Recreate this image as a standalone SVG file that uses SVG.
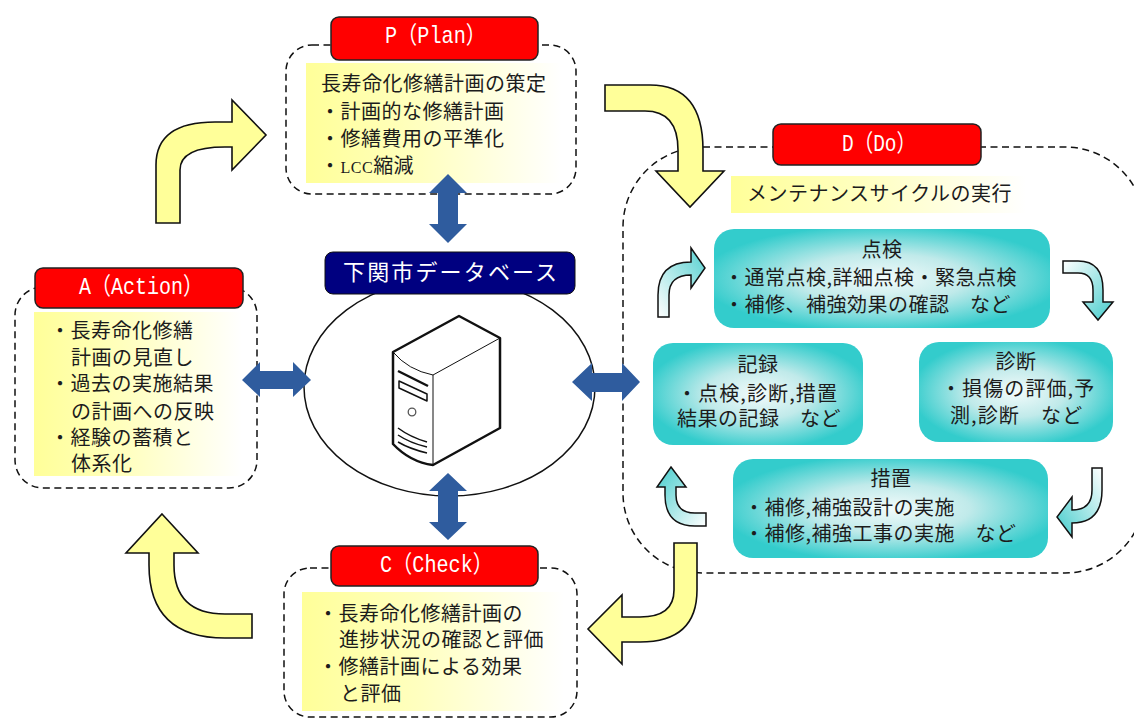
<svg xmlns="http://www.w3.org/2000/svg" width="1134" height="718" viewBox="0 0 1134 718">
<style>
text{font-family:"Noto Sans CJK JP","Noto Sans CJK SC",sans-serif}
.t{font-size:20px;letter-spacing:.5px;fill:#1c1c1c}
.w{letter-spacing:1.1px}
.c{text-anchor:middle}
.h{font-family:"Liberation Mono","Noto Sans CJK JP",monospace;font-size:24px;fill:#fff}
.dash{fill:none;stroke:#111;stroke-width:1.5;stroke-dasharray:7 4.5}
.red{fill:#ff0000;stroke:#222;stroke-width:1.5}
.yb{fill:url(#yg)}
.teal{fill:url(#tg)}
.big{fill:#ffff99;stroke:#111;stroke-width:1.6;stroke-linejoin:miter}
.small{stroke:#111;stroke-width:1.5}
.blue{fill:#2f5c9e}
.srv{fill:none;stroke:#111;stroke-linejoin:round}
</style>
<defs>
<linearGradient id="yg" x1="0" y1="0" x2="1" y2="0"><stop offset="0" stop-color="#ffff99"/><stop offset=".45" stop-color="#ffffc0"/><stop offset="1" stop-color="#ffffff"/></linearGradient>
<radialGradient id="tg" cx=".5" cy=".5" r=".6"><stop offset="0" stop-color="#f2fbfb"/><stop offset=".42" stop-color="#c0eaea"/><stop offset=".9" stop-color="#33cccc"/></radialGradient>
<linearGradient id="a1" x1="0" y1="1" x2="1" y2="0"><stop offset="0" stop-color="#ffffff"/><stop offset="1" stop-color="#55d0d0"/></linearGradient>
<linearGradient id="a2" x1="0" y1="0" x2="1" y2="1"><stop offset="0" stop-color="#ffffff"/><stop offset="1" stop-color="#45cccc"/></linearGradient>
<linearGradient id="a3" x1="1" y1="0" x2="0" y2="1"><stop offset="0" stop-color="#ffffff"/><stop offset="1" stop-color="#45cccc"/></linearGradient>
<linearGradient id="a4" x1="1" y1="1" x2="0" y2="0"><stop offset="0" stop-color="#ffffff"/><stop offset="1" stop-color="#45cccc"/></linearGradient>
</defs>
<rect width="1134" height="718" fill="#fff"/>

<g id="node-plan">
<rect class="dash" x="286" y="45" width="290" height="149" rx="26"/>
<rect class="yb" x="306" y="63" width="255" height="120"/>
<rect class="red" x="331" y="17" width="207" height="43" rx="8"/>
<text class="h" x="385" y="43" textLength="101" lengthAdjust="spacingAndGlyphs">P（Plan）</text>
<text class="t" x="321" y="91">長寿命化修繕計画の策定</text>
<text class="t" x="320" y="119">・計画的な修繕計画</text>
<text class="t" x="320" y="146">・修繕費用の平準化</text>
<text class="t" x="320" y="173">・<tspan font-family="Liberation Serif" font-size="16">LCC</tspan>縮減</text>
</g>

<g id="node-do">
<rect class="dash" x="623" y="147" width="522" height="426" rx="80"/>
<rect class="yb" x="731" y="176" width="295" height="37"/>
<rect class="red" x="773" y="124" width="208" height="41" rx="8"/>
<text class="h" x="842" y="151" textLength="74" lengthAdjust="spacingAndGlyphs">D（Do）</text>
<text class="t" x="747" y="201">メンテナンスサイクルの実行</text>
</g>

<g id="node-inspect">
<rect class="teal" x="714" y="229" width="336" height="99" rx="20"/>
<text class="t c" x="882" y="257">点検</text>
<text class="t" x="724" y="285">・通常点検,詳細点検・緊急点検</text>
<text class="t" x="724" y="312">・補修、補強効果の確認　など</text>
</g>
<g id="node-record">
<rect class="teal" x="653" y="343" width="210" height="102" rx="20"/>
<text class="t c" x="758" y="372">記録</text>
<text class="t w" x="677" y="401">・点検,診断,措置</text>
<text class="t" x="677" y="426">結果の記録　など</text>
</g>
<g id="node-diagnose">
<rect class="teal" x="919" y="342" width="194" height="100" rx="20"/>
<text class="t c" x="1016" y="369">診断</text>
<text class="t w" x="941" y="396">・損傷の評価,予</text>
<text class="t w" x="950" y="423">測,診断　など</text>
</g>
<g id="node-measure">
<rect class="teal" x="733" y="459" width="315" height="99" rx="20"/>
<text class="t c" x="891" y="486">措置</text>
<text class="t" x="744" y="515">・補修,補強設計の実施</text>
<text class="t" x="744" y="541">・補修,補強工事の実施　など</text>
</g>

<g id="node-action">
<rect class="dash" x="15" y="287" width="242" height="201" rx="28"/>
<rect class="yb" x="34" y="312" width="208" height="164"/>
<rect class="red" x="35" y="268" width="208" height="40" rx="8"/>
<text class="h" x="79" y="294" textLength="124" lengthAdjust="spacingAndGlyphs">A（Action）</text>
<text class="t" x="50" y="338">・長寿命化修繕</text>
<text class="t" x="71" y="365">計画の見直し</text>
<text class="t" x="50" y="391">・過去の実施結果</text>
<text class="t" x="71" y="419">の計画への反映</text>
<text class="t" x="50" y="445">・経験の蓄積と</text>
<text class="t" x="71" y="471">体系化</text>
</g>

<g id="node-check">
<rect class="dash" x="284" y="568" width="293" height="149" rx="26"/>
<rect class="yb" x="302" y="592" width="262" height="119"/>
<rect class="red" x="331" y="546" width="207" height="40" rx="8"/>
<text class="h" x="380" y="572" textLength="113" lengthAdjust="spacingAndGlyphs">C（Check）</text>
<text class="t" x="318" y="621">・長寿命化修繕計画の</text>
<text class="t" x="339" y="647">進捗状況の確認と評価</text>
<text class="t" x="318" y="674">・修繕計画による効果</text>
<text class="t" x="340" y="701">と評価</text>
</g>

<g id="node-database">
<ellipse cx="449.5" cy="387" rx="145.5" ry="109" fill="#fff" stroke="#111" stroke-width="1.5"/>
<rect x="325" y="252" width="250" height="42" rx="8" fill="#000080" stroke="#111" stroke-width="1"/>
<text x="450" y="280" class="c" font-size="22" letter-spacing="-.1" fill="#fff" textLength="214">下関市データベース</text>
<g id="server">
<path class="srv" stroke-width="2.5" d="M393 352L459 316L500 338V428L433 465Q410 462 393 444Z"/>
<path class="srv" stroke-width="1" stroke="#666" d="M393 352Q408 370 433 375L500 338M433 375V465"/>
<path class="srv" stroke-width="2.5" stroke="#555" d="M398 371L428 386"/>
<path class="srv" stroke-width="1.5" stroke="#444" d="M399 381L427 394V401L399 388ZM398 428Q410 437 427 442M398 435Q410 443 427 447M398 442Q410 449 427 453"/>
<circle cx="412" cy="412" r="3.8" fill="none" stroke="#555" stroke-width="1.3"/>
</g>
</g>

<g id="connectors">
<path class="big" d="M605 85H650Q703 85 703 150V171H724L690 207L656 171H678V150Q678 111 645 111H605Z"/>
<path class="big" d="M674 543V590Q674 617 640 617H622V595L588 629L622 664V642H640Q697 642 697 590V543Z"/>
<path class="big" d="M162 514L198 553H174V565Q174 614 225 614H252V638H225Q149 638 149 565V553H126Z"/>
<path class="big" d="M156 223V165Q156 122 215 122H232V100L266 135L232 170V147H225Q180 147 180 170V223Z"/>
<path class="blue" d="M448 174L467 193H458V224H467L448 243L429 224H438V193H429Z"/>
<path class="blue" d="M448 473L467 491H458V522H467L448 540L429 522H438V491H429Z"/>
<path class="blue" d="M242 380L260 362V371H293V362L311 380L293 397V389H260V397Z"/>
<path class="blue" d="M572 382L592 363V373H622V363L640 382L622 401V392H592V401Z"/>
<path class="small" fill="url(#a1)" d="M658 317V295Q658 262 691 262V248L705 268L691 288V275Q669 275 669 295V317Z"/>
<path class="small" fill="url(#a2)" d="M1063 261H1078Q1103 261 1103 290V302H1113L1098 320L1083 302H1093V290Q1093 273 1078 273H1063Z"/>
<path class="small" fill="url(#a3)" d="M1092 468V490Q1092 510 1072 510V497L1057 517L1072 537V523Q1102 523 1102 490V468Z"/>
<path class="small" fill="url(#a4)" d="M671 467L686 487H676V495Q676 513 695 513H706V526H695Q665 526 665 495V487H657Z"/>
</g>
</svg>
